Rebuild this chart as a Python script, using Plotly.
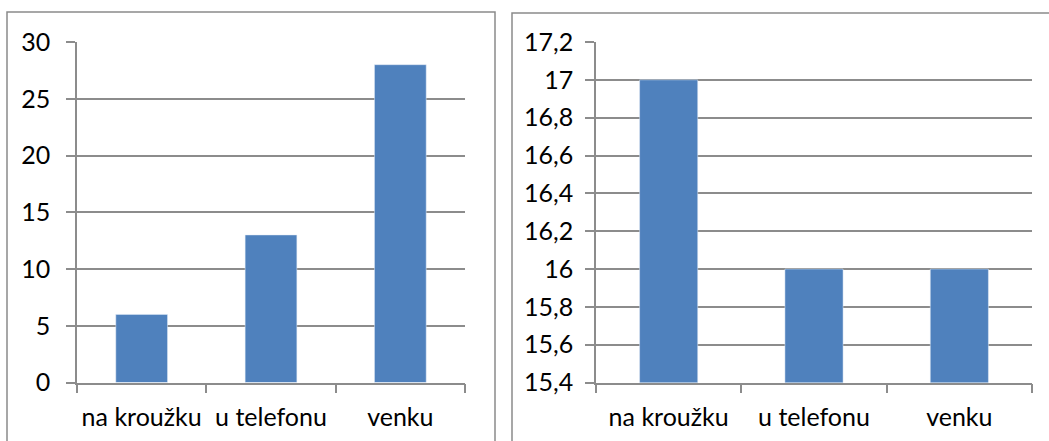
import plotly.graph_objects as go

categories = ["na kroužku", "u telefonu", "venku"]
left_values = [6, 13, 28]
right_values = [17, 16, 16]

W, H = 1049, 441
BAR = "#4F81BD"
GRID = "#8C8C8C"
FONT = dict(family="Lato, Carlito, sans-serif", size=25, color="black")

def px(x):
    return x / W

def py(y):
    return 1 - y / H

fig = go.Figure()
fig.add_trace(go.Bar(x=categories, y=left_values, marker_color=BAR, width=0.4,
                     xaxis="x", yaxis="y", showlegend=False))
fig.add_trace(go.Bar(x=categories, y=right_values, marker_color=BAR, width=0.4,
                     xaxis="x2", yaxis="y2", showlegend=False))

xcommon = dict(type="category", showgrid=False, showline=True, linecolor=GRID, linewidth=1.5,
               ticks="outside", tickson="boundaries", ticklen=9, tickcolor=GRID, tickwidth=1.5,
               tickfont=FONT, ticklabelstandoff=12, tickangle=0, fixedrange=True, automargin=False)
ycommon = dict(showgrid=True, gridcolor=GRID, gridwidth=1.5, showline=True, linecolor=GRID,
               linewidth=1.5, ticks="outside", ticklen=9, tickcolor=GRID, tickwidth=1.5,
               tickfont=FONT, zeroline=False, fixedrange=True, automargin=False)

fig.update_layout(
    width=W, height=H, margin=dict(l=0, r=0, t=0, b=0, autoexpand=False),
    paper_bgcolor="white", plot_bgcolor="white",
    separators=", ", bargap=0.6,
    xaxis=dict(domain=[px(77), px(465)], anchor="y", **xcommon),
    yaxis=dict(domain=[py(382.5), py(42)], anchor="x", range=[0, 30], dtick=5, tick0=0,
               ticklabelstandoff=11, **ycommon),
    xaxis2=dict(domain=[px(596), px(1032)], anchor="y2", **xcommon),
    yaxis2=dict(domain=[py(382.5), py(42)], anchor="x2", range=[15.4, 17.2], dtick=0.2, tick0=15.4,
                ticklabelstandoff=7, **ycommon),
    shapes=[
        dict(type="rect", xref="paper", yref="paper", x0=px(7), x1=px(495), y0=py(450), y1=py(12),
             line=dict(color="#8A8A8A", width=1.5), layer="below"),
        dict(type="rect", xref="paper", yref="paper", x0=px(512), x1=px(1060), y0=py(450), y1=py(13),
             line=dict(color="#8A8A8A", width=1.5), layer="below"),
    ],
)

fig.write_html("out.html", config={"displayModeBar": False},
               post_script="document.body.style.margin='0';")
